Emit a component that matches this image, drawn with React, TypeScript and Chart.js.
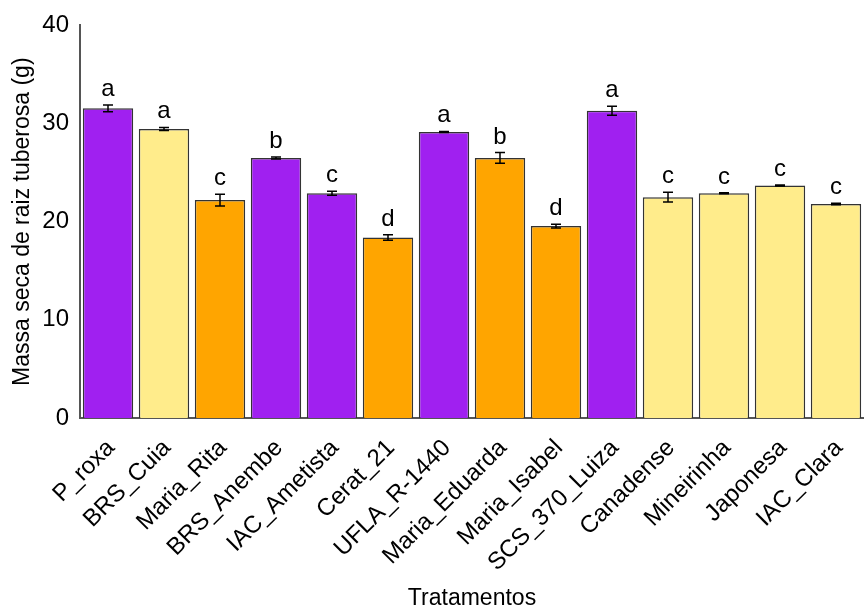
import React, { useEffect, useRef } from "react";
import { Chart, registerables } from "chart.js";

Chart.register(...registerables);

const categories = [
  "P_roxa", "BRS_Cuia", "Maria_Rita", "BRS_Anembe", "IAC_Ametista", "Cerat_21", "UFLA_R-1440",
  "Maria_Eduarda", "Maria_Isabel", "SCS_370_Luiza", "Canadense", "Mineirinha", "Japonesa", "IAC_Clara",
];
const values = [31.55, 29.45, 22.2, 26.5, 22.9, 18.4, 29.15, 26.5, 19.55, 31.3, 22.5, 22.9, 23.7, 21.8];
const errors = [0.35, 0.15, 0.6, 0.1, 0.2, 0.28, 0.05, 0.55, 0.2, 0.45, 0.5, 0.05, 0.05, 0.08];
const letters = ["a", "a", "c", "b", "c", "d", "a", "b", "d", "a", "c", "c", "c", "c"];
const groups = ["p", "y", "o", "p", "p", "o", "p", "o", "o", "p", "y", "y", "y", "y"];
const yTicks = [0, 10, 20, 30, 40];

const colorMap: Record<string, string> = { p: "#A020F0", o: "#FFA500", y: "#FFEC8B" };
const FONT = "Arial, 'Liberation Sans', sans-serif";

const errorPlugin = {
  id: "errorLetters",
  afterDatasetsDraw(chart: any) {
    const { ctx } = chart;
    const meta = chart.getDatasetMeta(0);
    const yScale = chart.scales.y;
    ctx.save();
    meta.data.forEach((bar: any, i: number) => {
      const x = bar.x;
      const top = yScale.getPixelForValue(values[i] + errors[i]);
      const bot = yScale.getPixelForValue(values[i] - errors[i]);
      ctx.strokeStyle = "#000";
      ctx.lineWidth = 1.5;
      ctx.beginPath();
      ctx.moveTo(x, top);
      ctx.lineTo(x, bot);
      ctx.moveTo(x - 5, top);
      ctx.lineTo(x + 5, top);
      ctx.moveTo(x - 5, bot);
      ctx.lineTo(x + 5, bot);
      ctx.stroke();
      ctx.fillStyle = "#000";
      ctx.font = `24px ${FONT}`;
      ctx.textAlign = "center";
      ctx.textBaseline = "alphabetic";
      ctx.fillText(letters[i], x, top - 9);
    });
    ctx.restore();
  },
};

export default function App() {
  const ref = useRef<HTMLCanvasElement>(null);
  useEffect(() => {
    if (!ref.current) return;
    const chart = new Chart(ref.current, {
      type: "bar",
      data: {
        labels: categories,
        datasets: [
          {
            data: values,
            backgroundColor: groups.map((g) => colorMap[g]),
            borderColor: "#333333",
            borderWidth: 1.5,
            barPercentage: 0.9,
            categoryPercentage: 1,
          },
        ],
      },
      options: {
        animation: false,
        responsive: false,
        maintainAspectRatio: false,
        layout: { padding: { top: 20, right: 0, left: 0, bottom: 0 } },
        plugins: { legend: { display: false }, tooltip: { enabled: false } },
        scales: {
          x: {
            afterFit: (scale: any) => {
              scale.height = 194;
              scale.paddingRight = 0;
              scale.paddingLeft = 0;
            },
            grid: { display: false, drawTicks: false },
            border: { display: true, color: "#555", width: 2 },
            ticks: {
              color: "#000",
              font: { family: FONT, size: 24 },
              minRotation: 45,
              maxRotation: 45,
              autoSkip: false,
              padding: 16,
              labelOffset: 3,
            },
            title: {
              display: true,
              text: "Tratamentos",
              color: "#000",
              font: { family: FONT, size: 23 },
              padding: { top: 0, bottom: 0 },
            },
          },
          y: {
            min: 0,
            max: 40,
            afterFit: (scale: any) => {
              scale.width = 80;
            },
            afterBuildTicks: (axis: any) => {
              axis.ticks = yTicks.map((v) => ({ value: v }));
            },
            grid: { display: false, drawTicks: false },
            border: { display: true, color: "#555", width: 2 },
            ticks: {
              color: "#000",
              font: { family: FONT, size: 24 },
              padding: 11,
            },
            title: {
              display: true,
              text: "Massa seca de raiz tuberosa (g)",
              color: "#000",
              font: { family: FONT, size: 23 },
              padding: { top: 9, bottom: 0 },
            },
          },
        },
      },
      plugins: [errorPlugin],
    });
    return () => chart.destroy();
  }, []);
  return (
    <div style={{ position: "fixed", left: 0, top: 0, width: 864, height: 612, background: "#fff" }}>
      <canvas ref={ref} width={864} height={612} style={{ width: 864, height: 612 }} />
    </div>
  );
}
